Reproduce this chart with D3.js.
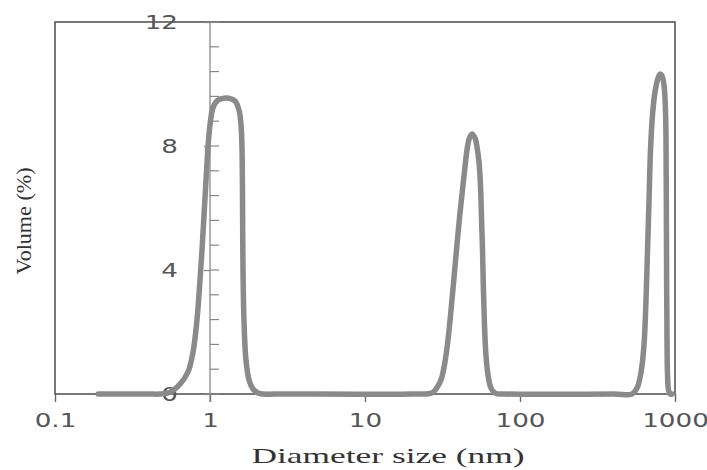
<!DOCTYPE html>
<html>
<head>
<meta charset="utf-8">
<script src="https://cdn.jsdelivr.net/npm/d3@7"></script>
<style>
  body { margin: 0; background: #fff; }
  svg { display: block; }
</style>
</head>
<body>
<div id="chart"></div>
<script>
// size distribution: diameter (nm) and volume (%)
const diameter = [0.19, 0.25, 0.40, 0.476, 0.552, 0.640, 0.721, 0.777, 0.824, 0.862, 0.888, 0.915, 0.943, 0.971, 1.0, 1.045, 1.127, 1.288, 1.449, 1.538, 1.585, 1.608, 1.633, 1.656, 1.706, 1.786, 1.894, 2.04, 2.20, 3.0,
                  20, 27.0, 28.7, 30.9, 32.8, 34.3, 35.9, 37.5, 39.2, 41.0, 42.9, 44.5, 45.8, 47.2, 49.0, 51.25, 52.8, 54.4, 55.6, 56.4, 57.3, 58.1, 59.0, 60.3, 62.2, 65.0, 69.0, 80,
                  400, 528, 569, 604, 631, 650, 665, 680, 695, 716, 743, 777, 800, 824, 849, 868, 875, 879, 883, 888, 895, 908, 929, 960];
const volume   = [0, 0, 0, 0, 0.06, 0.32, 0.71, 1.35, 2.39, 3.68, 4.65, 5.77, 6.9, 7.97, 8.68, 9.23, 9.48, 9.55, 9.45, 9.16, 8.68, 7.97, 4.0, 2.39, 1.10, 0.45, 0.16, 0.03, 0, 0,
                  0, 0.03, 0.16, 0.45, 1.03, 1.74, 2.71, 3.74, 4.81, 5.84, 6.74, 7.48, 7.97, 8.26, 8.39, 8.26, 7.97, 7.48, 6.74, 5.77, 4.65, 3.35, 2.23, 1.26, 0.61, 0.19, 0.03, 0,
                  0, 0, 0.19, 0.71, 1.58, 3.03, 4.65, 6.26, 7.87, 9.0, 9.74, 10.19, 10.32, 10.26, 9.97, 9.16, 8.19, 6.26, 3.68, 1.74, 0.61, 0.13, 0, 0];

const xTicks = [0.1, 1, 10, 100, 1000];
const xTickLabels = ['0.1', '1', '10', '100', '1000'];
const yMajor = [0, 4, 8, 12];
const yMinor = d3.range(0, 12.01, 0.8);

const width = 707, height = 470;
const stretch = 1.38; // scan is stretched sideways

const x = d3.scaleLog().domain([0.1, 1000]).range([55, 675]);
const y = d3.scaleLinear().domain([0, 12]).range([394, 22]);

const svg = d3.select('#chart').append('svg')
    .attr('width', width)
    .attr('height', height);

// frame
svg.append('rect')
    .attr('x', x(0.1)).attr('y', y(12))
    .attr('width', x(1000) - x(0.1)).attr('height', y(0) - y(12))
    .attr('fill', 'none')
    .attr('stroke', '#555')
    .attr('stroke-width', 1.6);

// x axis
const xAxis = d3.axisBottom(x)
    .tickValues(xTicks)
    .tickFormat((d, i) => xTickLabels[i])
    .tickSize(8)
    .tickPadding(12);

const gx = svg.append('g')
    .attr('transform', 'translate(0,' + y(0) + ')')
    .call(xAxis);
gx.select('.domain').remove();
gx.selectAll('line').attr('stroke', '#666').attr('stroke-width', 1.4);
gx.selectAll('text')
    .attr('fill', '#555')
    .style('font-family', '"DejaVu Sans", sans-serif')
    .style('font-size', '19px');

// y axis standing on diameter = 1
const x1 = x(1);
const gy = svg.append('g').attr('transform', 'translate(' + x1 + ',0)');
gy.append('line')
    .attr('y1', y(0) + 8).attr('y2', y(12))
    .attr('stroke', '#888').attr('stroke-width', 1.3);
gy.selectAll('line.minor').data(yMinor).join('line')
    .attr('class', 'minor')
    .attr('x1', 0).attr('x2', 9)
    .attr('y1', d => y(d)).attr('y2', d => y(d))
    .attr('stroke', '#888').attr('stroke-width', 1.2);

const yAxis = d3.axisLeft(y)
    .tickValues(yMajor)
    .tickFormat(d3.format('d'))
    .tickSize(6)
    .tickPadding(26);
const gyl = gy.append('g').call(yAxis);
gyl.select('.domain').remove();
gyl.selectAll('line').attr('stroke', '#888').attr('stroke-width', 1.3);
gyl.selectAll('text')
    .attr('fill', '#555')
    .style('font-family', '"DejaVu Sans", sans-serif')
    .style('font-size', '19px');

// widen the digits like the scan
svg.selectAll('.tick text').each(function() {
    const len = this.getComputedTextLength();
    d3.select(this)
        .attr('textLength', len * stretch)
        .attr('lengthAdjust', 'spacingAndGlyphs');
});

// distribution curve
const points = diameter.map((d, i) => [d, volume[i]]);
const line = d3.line()
    .x(d => x(d[0]))
    .y(d => y(d[1]))
    .curve(d3.curveCatmullRom.alpha(0.5));

svg.append('path')
    .datum(points)
    .attr('d', line)
    .attr('fill', 'none')
    .attr('stroke', '#8a8a8a')
    .attr('stroke-width', 5.5)
    .attr('stroke-linejoin', 'round')
    .attr('stroke-linecap', 'round');

// axis titles
svg.append('text')
    .attr('x', 388).attr('y', 463)
    .attr('text-anchor', 'middle')
    .attr('fill', '#333')
    .attr('textLength', 273)
    .attr('lengthAdjust', 'spacingAndGlyphs')
    .style('font-family', '"Liberation Serif", serif')
    .style('font-size', '22px')
    .text('Diameter size (nm)');

svg.append('text')
    .attr('transform', 'translate(31,221) rotate(-90)')
    .attr('text-anchor', 'middle')
    .attr('fill', '#333')
    .attr('textLength', 107)
    .attr('lengthAdjust', 'spacingAndGlyphs')
    .style('font-family', '"Liberation Serif", serif')
    .style('font-size', '21px')
    .text('Volume (%)');
</script>
</body>
</html>
